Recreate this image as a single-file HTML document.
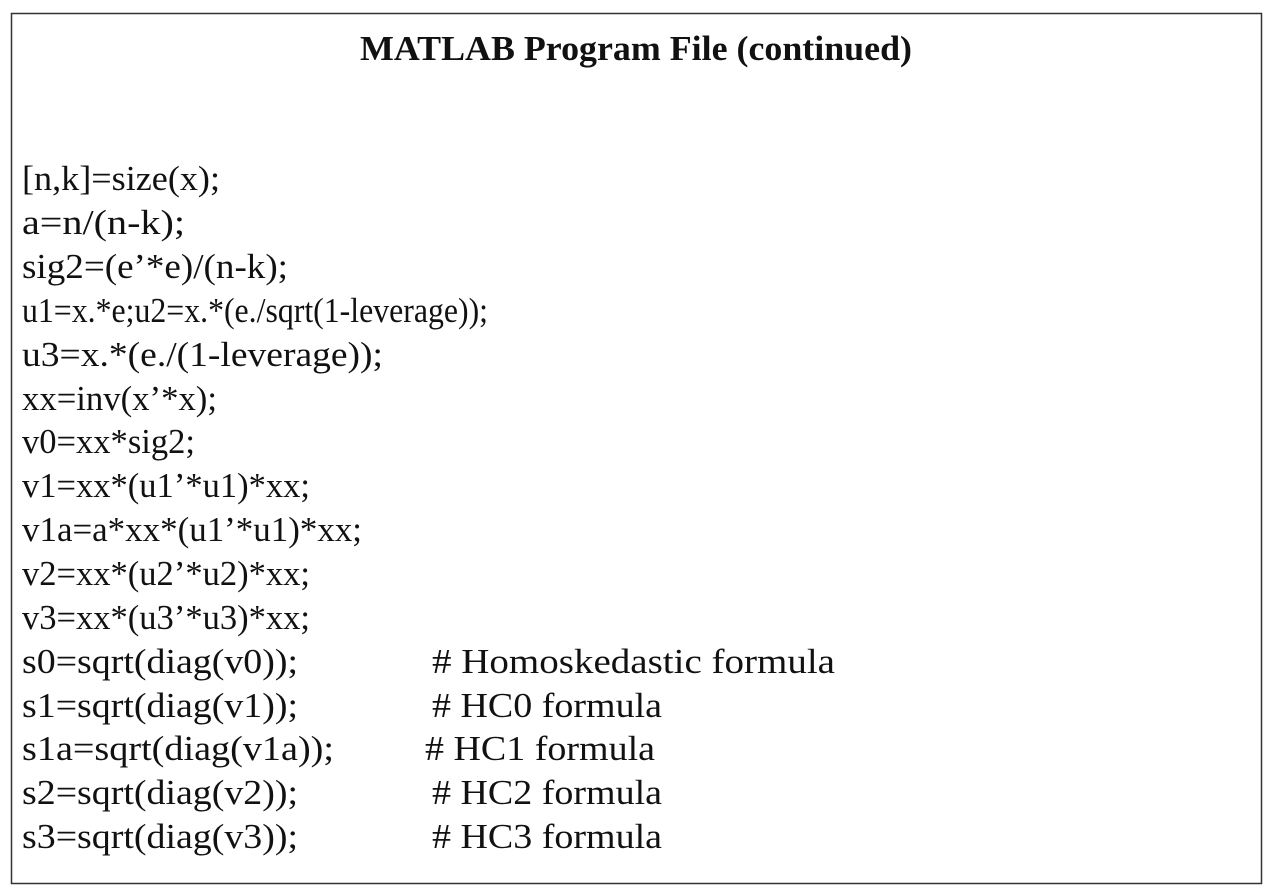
<!DOCTYPE html>
<html><head><meta charset="utf-8"><style>
body{margin:0;width:1271px;height:895px;background:#fff;overflow:hidden}
svg{position:absolute;left:0;top:0}
text{font-family:"Liberation Serif",serif;font-size:35px;fill:#111}
</style></head><body>
<svg width="1271" height="895">
<rect x="11.5" y="13.5" width="1250" height="870" fill="none" stroke="#333" stroke-width="1.5"/>
<text x="360" y="60" textLength="552" lengthAdjust="spacingAndGlyphs" style="font-weight:bold;font-size:35px">MATLAB Program File (continued)</text>
<text x="22" y="190" textLength="198" lengthAdjust="spacingAndGlyphs">[n,k]=size(x);</text>
<text x="22" y="234" textLength="163" lengthAdjust="spacingAndGlyphs">a=n/(n-k);</text>
<text x="22" y="278" textLength="266" lengthAdjust="spacingAndGlyphs">sig2=(e’*e)/(n-k);</text>
<text x="22" y="322" textLength="466" lengthAdjust="spacingAndGlyphs">u1=x.*e;u2=x.*(e./sqrt(1-leverage));</text>
<text x="22" y="366" textLength="361" lengthAdjust="spacingAndGlyphs">u3=x.*(e./(1-leverage));</text>
<text x="22" y="410" textLength="195" lengthAdjust="spacingAndGlyphs">xx=inv(x’*x);</text>
<text x="22" y="453" textLength="173" lengthAdjust="spacingAndGlyphs">v0=xx*sig2;</text>
<text x="22" y="497" textLength="288" lengthAdjust="spacingAndGlyphs">v1=xx*(u1’*u1)*xx;</text>
<text x="22" y="541" textLength="340" lengthAdjust="spacingAndGlyphs">v1a=a*xx*(u1’*u1)*xx;</text>
<text x="22" y="585" textLength="288" lengthAdjust="spacingAndGlyphs">v2=xx*(u2’*u2)*xx;</text>
<text x="22" y="629" textLength="288" lengthAdjust="spacingAndGlyphs">v3=xx*(u3’*u3)*xx;</text>
<text x="22" y="673" textLength="276" lengthAdjust="spacingAndGlyphs">s0=sqrt(diag(v0));</text>
<text x="432" y="673" textLength="403" lengthAdjust="spacingAndGlyphs"># Homoskedastic formula</text>
<text x="22" y="717" textLength="276" lengthAdjust="spacingAndGlyphs">s1=sqrt(diag(v1));</text>
<text x="432" y="717" textLength="230" lengthAdjust="spacingAndGlyphs"># HC0 formula</text>
<text x="22" y="760" textLength="312" lengthAdjust="spacingAndGlyphs">s1a=sqrt(diag(v1a));</text>
<text x="425" y="760" textLength="230" lengthAdjust="spacingAndGlyphs"># HC1 formula</text>
<text x="22" y="804" textLength="276" lengthAdjust="spacingAndGlyphs">s2=sqrt(diag(v2));</text>
<text x="432" y="804" textLength="230" lengthAdjust="spacingAndGlyphs"># HC2 formula</text>
<text x="22" y="848" textLength="276" lengthAdjust="spacingAndGlyphs">s3=sqrt(diag(v3));</text>
<text x="432" y="848" textLength="230" lengthAdjust="spacingAndGlyphs"># HC3 formula</text>
</svg>
</body></html>
